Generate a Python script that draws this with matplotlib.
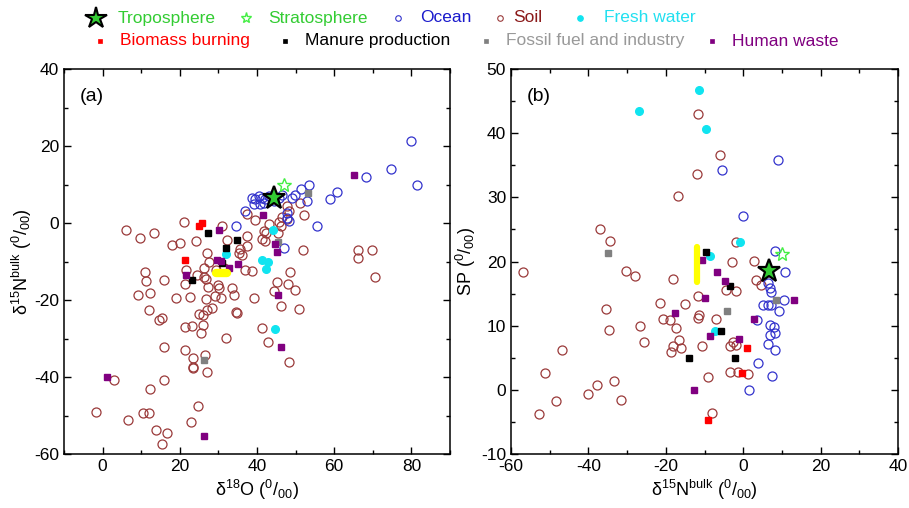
import matplotlib
matplotlib.use('Agg')
import matplotlib.pyplot as plt
import numpy as np
from matplotlib.ticker import MultipleLocator

plt.rcParams['font.family'] = ['Liberation Sans', 'DejaVu Sans']
plt.rcParams['mathtext.fontset'] = 'custom'
plt.rcParams['mathtext.rm'] = 'Liberation Sans'
plt.rcParams['mathtext.it'] = 'Liberation Sans:italic'
plt.rcParams['axes.unicode_minus'] = False

# ---- panel (a): d18O vs d15N bulk ----
tropo_a = [(44.3, 6.6)]
strato_a = [(46.9, 10.0)]
ocean_a = [(79.8, 21.2), (74.7, 13.9), (68.2, 11.9), (81.5, 10.0), (60.6, 8.1), (58.9, 6.2),
           (55.5, -0.9), (53.5, 9.8), (51.5, 8.8), (49.9, 7.4), (49.0, 6.6), (52.9, 5.6),
           (47.8, 2.7), (47.8, 1.4), (48.2, 0.6), (46.9, -6.4), (38.7, 6.6), (39.6, 6.2),
           (40.5, 7.0), (41.3, 6.6), (42.2, 6.2), (43.0, 7.0), (39.2, 4.9), (40.9, 4.9),
           (41.8, 5.3), (44.3, 5.7), (45.6, 6.6), (46.5, 7.4), (36.8, 3.1), (34.5, -0.8)]
soil_a = [(6.1, -1.8), (9.7, -3.8), (13.2, -2.5), (21.1, 0.3), (31.0, -0.9), (32.2, -4.3),
          (37.4, -3.4), (18.0, -5.6), (20.1, -5.1), (24.1, -4.6), (35.7, -6.7), (35.4, -7.7),
          (36.0, -8.4), (27.1, -7.8), (37.4, 2.3), (39.4, 0.8), (45.6, 0.2), (46.1, -0.9),
          (47.8, 1.0), (46.5, 1.6), (47.8, 4.5), (48.2, 3.2), (51.2, 5.3), (52.1, 2.2),
          (41.8, -2.0), (42.3, -2.6), (45.4, -2.6), (41.3, -4.1), (42.0, -4.8), (51.8, -7.0),
          (37.4, -5.9), (37.0, -12.1), (38.7, -12.5), (21.7, -12.1), (24.4, -13.6),
          (26.3, -14.0), (26.7, -14.6), (21.4, -15.9), (27.4, -16.6), (30.0, -16.2),
          (30.2, -17.0), (33.4, -16.9), (45.2, -15.3), (48.5, -12.7), (48.0, -15.9),
          (44.3, -17.7), (49.9, -17.3), (39.2, -19.4), (34.0, -18.7), (22.6, -19.2),
          (26.7, -19.8), (29.1, -19.0), (30.6, -19.6), (46.1, -21.5), (51.0, -22.4),
          (27.1, -22.6), (28.4, -22.2), (25.0, -23.6), (26.0, -23.9), (34.7, -23.3),
          (34.5, -23.0), (21.4, -26.9), (23.1, -26.7), (25.9, -26.5), (25.4, -28.6),
          (41.3, -27.3), (31.9, -29.9), (27.6, -10.0), (26.3, -11.6), (29.3, -12.3),
          (31.4, -11.6), (11.1, -12.6), (11.3, -15.1), (16.0, -14.9), (9.1, -18.6),
          (12.3, -18.1), (12.1, -22.6), (14.7, -25.2), (15.4, -24.7), (19.1, -19.4),
          (16.0, -32.3), (21.3, -33.1), (23.3, -35.1), (26.5, -34.2), (23.3, -37.6),
          (23.5, -37.3), (27.0, -38.8), (16.0, -40.8), (2.9, -40.8), (12.4, -43.2),
          (24.6, -47.5), (-1.8, -49.2), (6.5, -51.1), (10.4, -49.4), (12.1, -49.4),
          (22.9, -51.8), (13.8, -53.7), (16.6, -54.6), (15.5, -57.4), (42.9, -30.9),
          (48.4, -36.2), (66.2, -7.1), (69.8, -7.1), (66.2, -9.0), (70.5, -14.0),
          (43.0, -0.3)]
fresh_a = [(44.1, -1.7), (32.0, -8.0), (41.2, -9.5), (42.9, -10.2), (42.4, -12.0), (44.6, -27.6)]
biomass_a = [(25.0, -0.7), (25.7, 0.0), (21.3, -9.7)]
manure_a = [(27.3, -2.7), (34.9, -4.4), (31.9, -6.4), (31.0, -10.4), (23.1, -14.7)]
fossil_a = [(53.2, 7.9), (45.4, -5.0), (26.3, -35.5)]
human_a = [(65.2, 12.4), (41.5, 2.0), (30.2, -1.8), (44.6, -5.4), (45.3, -7.6), (29.7, -9.5),
           (30.6, -9.9), (32.7, -11.7), (35.1, -10.7), (21.7, -13.6), (45.4, -18.6),
           (46.1, -32.1), (1.2, -40.1), (26.3, -55.4)]
yellow_a_x = [29.5, 32.2]
yellow_a_y = [-13.1, -13.1]

# ---- panel (b): d15N bulk vs SP ----
tropo_b = [(6.6, 18.5)]
strato_b = [(10.1, 21.1)]
ocean_b = [(-5.5, 34.2), (9.0, 35.8), (-0.1, 27.1), (8.3, 21.7), (10.9, 18.4), (6.4, 16.7),
           (6.8, 15.8), (7.2, 15.3), (5.1, 13.2), (6.4, 13.2), (7.2, 13.2), (10.5, 14.0),
           (9.2, 12.3), (3.5, 10.9), (6.8, 10.1), (7.9, 9.75), (8.1, 8.8), (6.8, 8.5),
           (6.5, 7.1), (8.1, 6.2), (3.8, 4.2), (7.4, 2.2), (1.5, -0.1)]
soil_b = [(-11.7, 43.0), (-11.9, 33.7), (-16.9, 30.2), (-37.0, 25.1), (-34.5, 23.2),
          (-6.1, 36.6), (-1.8, 23.1), (-2.8, 20.0), (2.9, 20.1), (-4.4, 15.6), (-1.8, 15.4),
          (3.2, 17.1), (4.6, 16.3), (-18.1, 17.3), (-11.7, 14.6), (-15.1, 13.4),
          (-11.3, 11.7), (-11.7, 11.2), (-7.1, 11.0), (-2.7, 7.5), (-3.3, 6.8), (-1.8, 7.0),
          (-10.6, 6.9), (-17.3, 9.7), (-16.7, 7.8), (-16.2, 6.5), (-18.1, 6.8), (-18.6, 5.9),
          (-3.5, 2.8), (-1.4, 2.8), (1.2, 2.4), (-9.0, 2.0), (-8.0, -3.6), (-56.9, 18.4),
          (-30.2, 18.5), (-27.9, 17.7), (-21.6, 13.5), (-35.4, 12.6), (-20.6, 11.0),
          (-18.8, 10.9), (-26.6, 10.0), (-34.8, 9.4), (-25.7, 7.5), (-46.8, 6.2),
          (-51.1, 2.7), (-37.9, 0.8), (-33.5, 1.4), (-40.1, -0.6), (-48.5, -1.8),
          (-31.5, -1.6), (-52.8, -3.7)]
fresh_b = [(-26.8, 43.5), (-11.5, 46.7), (-9.5, 40.6), (-0.8, 23.0), (-8.7, 20.8), (-7.4, 9.2)]
biomass_b = [(1.0, 6.5), (-0.3, 2.7), (-9.1, -4.7)]
manure_b = [(-9.7, 21.5), (-3.5, 16.2), (-5.7, 9.1), (-14.1, 5.0), (-2.0, 5.0)]
fossil_b = [(-34.9, 21.4), (-4.2, 12.3), (8.6, 14.0)]
human_b = [(-10.6, 20.3), (-6.8, 18.3), (-4.6, 16.9), (-10.0, 14.3), (-17.7, 12.0), (13.2, 14.0),
           (2.7, 11.0), (-8.5, 8.4), (-1.1, 8.0), (-12.8, 0.0)]
yellow_b_x = [-12.0, -12.0]
yellow_b_y = [16.8, 22.2]

C_GREEN = '#33cc33'
C_OCEAN = '#3333cc'
C_SOIL = '#9a3a3a'
C_FRESH = '#10e4f0'
C_RED = '#ff0000'
C_BLACK = '#000000'
C_GRAY = '#808080'
C_PURPLE = '#800080'

fig = plt.figure(figsize=(9.09, 5.08), dpi=100)
W, H = 909.0, 508.0
ax_a = fig.add_axes([64 / W, 1 - 454 / H, (450 - 64) / W, (454 - 69) / H])
ax_b = fig.add_axes([511 / W, 1 - 454 / H, (898 - 511) / W, (454 - 69) / H])


def xy(pts):
    a = np.array(pts)
    return a[:, 0], a[:, 1]


def draw(ax, soil, ocean, fresh, biomass, manure, fossil, human, tropo, strato, yx, yy, vertical):
    ax.plot(*xy(soil), 'o', mfc='none', mec=C_SOIL, ms=6.5, mew=0.9, ls='none')
    ax.plot(*xy(ocean), 'o', mfc='none', mec=C_OCEAN, ms=6.5, mew=0.9, ls='none')
    ax.plot(*xy(fresh), 'o', mfc=C_FRESH, mec=C_FRESH, ms=5.5, ls='none')
    ax.plot(*xy(fossil), 's', mfc=C_GRAY, mec=C_GRAY, ms=4.3, ls='none')
    ax.plot(*xy(manure), 's', mfc=C_BLACK, mec=C_BLACK, ms=4.3, ls='none')
    ax.plot(*xy(human), 's', mfc=C_PURPLE, mec=C_PURPLE, ms=4.3, ls='none')
    ax.plot(*xy(biomass), 's', mfc=C_RED, mec=C_RED, ms=4.3, ls='none')
    if vertical:
        ax.plot(yx, yy, '-', color='#ffff00', lw=4.5, solid_capstyle='round')
    else:
        ax.plot(yx, yy, '-', color='#ffff00', lw=6, solid_capstyle='round')
    ax.plot(*xy(strato), '*', mfc='none', mec='#44ee44', ms=10, mew=1.0, ls='none')
    ax.plot(*xy(tropo), '*', mfc=C_GREEN, mec='black', ms=17, mew=1.6, ls='none')
    ax.tick_params(which='both', direction='in', top=True, right=True, labelsize=12.5)
    ax.tick_params(which='major', length=5, width=1)
    ax.tick_params(which='minor', length=3, width=1)
    for s in ax.spines.values():
        s.set_linewidth(1.1)


draw(ax_a, soil_a, ocean_a, fresh_a, biomass_a, manure_a, fossil_a, human_a,
     tropo_a, strato_a, yellow_a_x, yellow_a_y, False)
ax_a.set_xlim(-10, 90)
ax_a.set_ylim(-60, 40)
ax_a.xaxis.set_major_locator(MultipleLocator(20))
ax_a.xaxis.set_minor_locator(MultipleLocator(10))
ax_a.yaxis.set_major_locator(MultipleLocator(20))
ax_a.yaxis.set_minor_locator(MultipleLocator(10))
ax_a.set_xlabel('δ$^{18}$O ($^{0}$/$_{00}$)', fontsize=13, labelpad=3)
ax_a.set_ylabel('δ$^{15}$N$^{\\mathrm{bulk}}$ ($^{0}$/$_{00}$)', fontsize=13, labelpad=0)
ax_a.text(0.04, 0.95, '(a)', transform=ax_a.transAxes, fontsize=14, va='top')

draw(ax_b, soil_b, ocean_b, fresh_b, biomass_b, manure_b, fossil_b, human_b,
     tropo_b, strato_b, yellow_b_x, yellow_b_y, True)
ax_b.set_xlim(-60, 40)
ax_b.set_ylim(-10, 50)
ax_b.xaxis.set_major_locator(MultipleLocator(20))
ax_b.xaxis.set_minor_locator(MultipleLocator(10))
ax_b.yaxis.set_major_locator(MultipleLocator(10))
ax_b.yaxis.set_minor_locator(MultipleLocator(5))
ax_b.set_xlabel('δ$^{15}$N$^{\\mathrm{bulk}}$ ($^{0}$/$_{00}$)', fontsize=13, labelpad=3)
ax_b.set_ylabel('SP ($^{0}$/$_{00}$)', fontsize=13, labelpad=2)
ax_b.text(0.04, 0.95, '(b)', transform=ax_b.transAxes, fontsize=14, va='top')

# ---- legend strip along the top ----
leg = fig.add_axes([0, 0, 1, 1], facecolor='none')
leg.set_xlim(0, W)
leg.set_ylim(H, 0)
leg.axis('off')
row1 = [('*', C_GREEN, 'black', 16, 1.5, 96, 'Troposphere', C_GREEN, 118),
        ('*', 'none', '#44ee44', 8, 1.0, 246, 'Stratosphere', C_GREEN, 268),
        ('o', 'none', C_OCEAN, 4, 0.8, 398, 'Ocean', '#1a1acc', 420),
        ('o', 'none', C_SOIL, 4, 0.8, 500, 'Soil', '#8b1a1a', 513),
        ('o', C_FRESH, C_FRESH, 4, 0.8, 580, 'Fresh water', '#22e0f0', 604)]
row2 = [('s', C_RED, C_RED, 3.5, 0.5, 100, 'Biomass burning', C_RED, 120),
        ('s', C_BLACK, C_BLACK, 3.5, 0.5, 285, 'Manure production', C_BLACK, 305),
        ('s', C_GRAY, C_GRAY, 3.5, 0.5, 486, 'Fossil fuel and industry', '#999999', 506),
        ('s', C_PURPLE, C_PURPLE, 3.5, 0.5, 712, 'Human waste', C_PURPLE, 732)]
for row, ypos in ((row1, 18), (row2, 41)):
    for m, fc, ec, ms, mew, mx, label, tc, tx in row:
        leg.plot([mx], [ypos], m, mfc=fc, mec=ec, ms=ms, mew=mew, clip_on=False)
        leg.text(tx, ypos, label, color=tc, fontsize=12.5, va='center', ha='left')

fig.savefig('out.png', dpi=100)
